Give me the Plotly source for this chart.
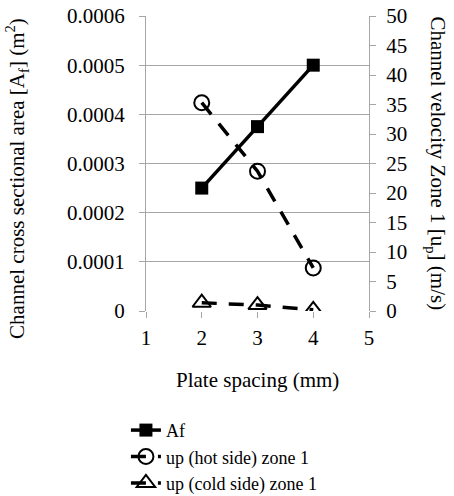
import plotly.graph_objects as go

spacing = [2, 3, 4]
af = [0.00025, 0.000375, 0.0005]
up_hot = [35.3, 23.7, 7.3]
up_cold = [1.4, 1.0, 0.2]

fam = "Liberation Serif, serif"
font = dict(family=fam, size=21, color="black")
lfont = dict(family=fam, size=18, color="black")
grid = "#a6a6a6"

fig = go.Figure()
fig.add_trace(go.Scatter(x=spacing, y=af, name="Af", mode="lines+markers",
                         line=dict(color="black", width=3.5),
                         marker=dict(symbol="square", size=13, color="black")))
fig.add_trace(go.Scatter(x=spacing, y=up_hot, name="up (hot side) zone 1", mode="lines+markers",
                         yaxis="y2",
                         line=dict(color="black", width=3.5, dash="15px,12px"),
                         marker=dict(symbol="circle-open", size=15, color="black", line=dict(width=2))))
fig.add_trace(go.Scatter(x=spacing, y=up_cold, name="up (cold side) zone 1", mode="lines+markers",
                         yaxis="y2",
                         line=dict(color="black", width=3.5, dash="15px,12px"),
                         marker=dict(symbol="triangle-up-open", size=16, color="black", line=dict(width=2))))

fig.update_layout(
    width=454, height=496,
    margin=dict(l=146, r=85, t=16, b=185, autoexpand=False),
    paper_bgcolor="white", plot_bgcolor="white",
    font=font,
    showlegend=True,
    legend=dict(x=-0.09, y=-0.342, xanchor="left", yanchor="top",
                font=lfont, tracegroupgap=0, itemwidth=30,
                bgcolor="rgba(0,0,0,0)"),
    xaxis=dict(range=[1, 5], tickvals=[1, 2, 3, 4, 5], showgrid=False,
               ticks="outside", ticklen=6, tickcolor=grid, showline=False,
               zeroline=False, ticklabelstandoff=2),
    yaxis=dict(range=[0, 0.0006], tickvals=[0, 0.0001, 0.0002, 0.0003, 0.0004, 0.0005, 0.0006],
               ticktext=["0", "0.0001", "0.0002", "0.0003", "0.0004", "0.0005", "0.0006"],
               showgrid=True, gridcolor=grid, gridwidth=1.3,
               ticks="outside", ticklen=6, tickcolor=grid,
               showline=True, linecolor=grid, linewidth=1.3, zeroline=False,
               ticklabelstandoff=10),
    yaxis2=dict(range=[0, 50], tickvals=list(range(0, 51, 5)), overlaying="y", side="right",
                showgrid=False, ticks="outside", ticklen=6, tickcolor=grid,
                showline=True, linecolor=grid, linewidth=1.3, zeroline=False,
                ticklabelstandoff=6),
)

fig.add_annotation(text="Channel cross sectional area [A<sub>f</sub>] (m<sup>2</sup>)", textangle=-90,
                   xref="paper", yref="paper", x=-0.58, y=0.45, showarrow=False,
                   font=font, xanchor="center", yanchor="middle")
fig.add_annotation(text="Channel velocity Zone 1 [u<sub>p</sub>] (m/s)", textangle=90,
                   xref="paper", yref="paper", x=1.305, y=0.5, showarrow=False,
                   font=font, xanchor="center", yanchor="middle")
fig.add_annotation(text="Plate spacing (mm)",
                   xref="paper", yref="paper", x=0.5, y=-0.234, showarrow=False,
                   font=font, xanchor="center", yanchor="middle")

fig.write_html("out.html")
